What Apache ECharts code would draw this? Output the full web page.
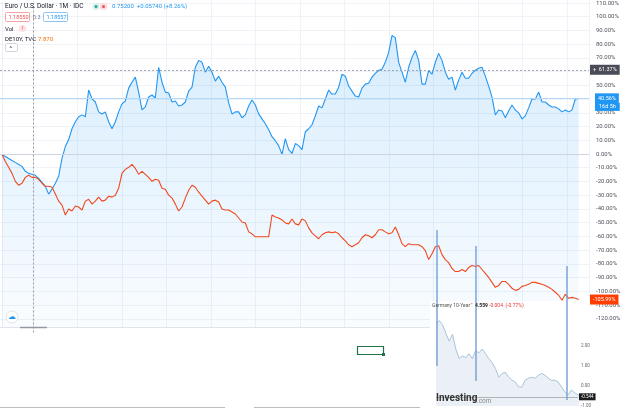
<!DOCTYPE html>
<html>
<head>
<meta charset="utf-8">
<script src="https://cdn.jsdelivr.net/npm/echarts@6/dist/echarts.min.js"></script>
<style>
  html, body { margin: 0; padding: 0; background: #fff; }
  #chart { width: 625px; height: 409px; }
</style>
</head>
<body>
<div id="chart"></div>
<script>
// EUR/USD, % change since start (blue, area)
const eurUsd = [
  -0.4, -1.8, -3.2, -4.7, -6.1, -7.6, -9.0, -12.6, -14.1, -14.8,
  -15.5, -17.7, -20.6, -23.5, -29.2, -25.6, -21.3, -16.2, -3.2, 5.4,
  10.5, 18.4, 23.5, 27.1, 28.5, 27.1, 46.6, 40.1, 37.9, 30.7,
  29.2, 30.7, 23.5, 18.4, 23.5, 30.7, 36.5, 38.6, 48.0, 52.3,
  56.0, 45.1, 32.1, 34.3, 41.5, 43.0, 40.8, 63.2, 52.3, 45.1,
  44.4, 37.9, 38.6, 35.0, 35.7, 37.9, 45.8, 48.7, 63.2, 68.2,
  66.8, 59.6, 63.9, 59.6, 53.1, 56.7, 52.3, 48.7, 37.2, 29.2,
  30.7, 30.7, 26.4, 28.5, 35.0, 39.3, 35.7, 29.2, 25.6, 22.0,
  17.7, 12.6, 9.7, 6.1, -0.4, 11.2, 3.2, 0.4, 7.6, 6.1,
  3.2, 16.2, 18.4, 21.3, 27.8, 35.0, 33.6, 40.1, 46.6, 43.7,
  43.7, 48.7, 58.1, 56.7, 49.5, 45.8, 42.2, 41.5, 48.0, 50.9,
  51.6, 56.0, 58.8, 61.0, 61.7, 66.8, 74.0, 86.3, 84.8, 66.8,
  59.6, 52.3, 63.2, 70.4, 75.4, 68.2, 50.9, 50.9, 61.0, 58.1,
  66.8, 73.3, 68.2, 59.6, 54.5, 56.0, 46.6, 53.8, 59.6, 55.2,
  55.2, 58.8, 61.0, 62.5, 63.2, 56.7, 49.5, 41.5, 28.5, 32.1,
  31.4, 26.4, 31.4, 35.7, 32.1, 30.0, 25.6, 27.8, 33.6, 40.1,
  40.1, 45.1, 37.9, 37.9, 35.7, 34.3, 34.3, 32.9, 30.7, 32.1,
  30.7, 32.1, 40.1, 40.56
];

// DE10Y, % change since start (red)
const de10y = [
  -0.4, -5.4, -9.7, -14.1, -19.9, -22.7, -21.3, -17.0, -15.5, -17.0,
  -17.0, -18.4, -21.3, -23.5, -23.5, -24.2, -29.2, -34.3, -37.2, -44.4,
  -40.1, -41.5, -37.9, -38.6, -40.8, -34.3, -32.9, -36.5, -34.3, -31.4,
  -34.3, -33.6, -30.7, -31.4, -30.0, -24.9, -14.1, -11.2, -9.7, -7.6,
  -10.5, -14.8, -12.6, -14.8, -17.0, -19.9, -18.4, -19.1, -24.9, -25.6,
  -30.0, -32.1, -36.5, -41.5, -38.6, -32.1, -26.4, -22.7, -24.2, -27.8,
  -30.7, -33.6, -36.5, -34.3, -33.6, -35.0, -40.1, -40.8, -40.8, -42.2,
  -43.7, -46.6, -49.5, -50.2, -56.7, -58.1, -60.3, -60.3, -60.3, -60.3,
  -60.3, -44.4, -45.8, -46.6, -48.0, -50.2, -50.9, -47.3, -50.9, -51.6,
  -47.3, -48.7, -53.8, -57.4, -59.6, -61.7, -58.8, -57.4, -56.7, -57.4,
  -56.7, -58.1, -61.0, -63.2, -66.1, -67.5, -66.1, -64.6, -61.0, -58.8,
  -59.6, -61.0, -58.8, -55.2, -55.2, -56.7, -58.1, -57.4, -53.1, -58.8,
  -65.3, -67.5, -65.3, -66.1, -66.1, -66.1, -67.5, -70.4, -76.9, -72.6,
  -67.5, -66.8, -73.3, -76.9, -79.1, -83.4, -85.6, -85.6, -84.1, -85.6,
  -82.7, -81.2, -81.9, -81.2, -84.1, -87.0, -89.9, -93.5, -97.1, -95.7,
  -92.8, -92.8, -94.9, -97.8, -99.3, -98.6, -96.4, -95.7, -94.9, -93.5,
  -93.5, -94.2, -94.9, -95.7, -97.1, -98.6, -100.7, -102.9, -106.5, -102.2,
  -105.1, -104.4, -105.1, -105.99
];

// Germany 10-Year yield (Investing.com inset)
const de10yInset = [
  3.12, 3.27, 3.07, 2.63, 2.24, 2.59, 1.85, 1.37, 1.51, 1.41,
  1.61, 1.37, 1.76, 1.66, 1.85, 1.61, 1.37, 1.17, 0.88, 0.44,
  0.63, 0.68, 0.44, 0.29, 0.20, -0.05, -0.05, 0.29, 0.39, 0.44,
  0.39, 0.54, 0.63, 0.54, 0.39, 0.29, 0.29, 0.20, -0.05, -0.29,
  -0.44, -0.20, -0.34, -0.44, -0.54
];

// vertical marker lines of the inset: [index, top yield, bottom yield]
const insetMarkers = [[0.3, 7.8, 1.0], [12.1, 7.0, 0.25], [39.7, 6.0, -0.7]];

const eurLast = 40.56;
const deLast = -105.99;
const insetLast = -0.544;
const dashedLevel = 61.37;
const crosshairAt = 9.3;

const chart = echarts.init(document.getElementById('chart'));
const font = 'Roboto, "Noto Sans", sans-serif';

const txt = (x, y, text, fill, size, extra) => Object.assign({
  type: 'text', left: x, top: y, z: 20,
  style: { text: text, fill: fill, font: (size || 6) + 'px ' + font }
}, extra || {});

const priceBox = (bg, pad) => ({
  show: true, position: 'end', distance: 3,
  backgroundColor: bg, color: '#fff', fontSize: 5.5,
  padding: pad || [2, 3], fontFamily: font
});

const option = {
  animation: false,
  backgroundColor: '#ffffff',
  grid: [
    { left: 0, right: 36, top: 0, bottom: 76.5 },      // main chart
    { left: 436, right: 47, top: 316, bottom: 3 },      // investing inset
    { left: 33.2, right: 36, top: 0, bottom: 76.5 },   // time grid lines
    { left: 436, right: 47, top: 0, bottom: 0 }         // inset marker lines
  ],
  xAxis: [
    { type: 'value', gridIndex: 0, min: -0.6, max: 176.1, show: false },
    { type: 'value', gridIndex: 1, min: 0, max: 43, show: false },
    {
      type: 'value', gridIndex: 2, min: 0, max: 12.49, interval: 1,
      axisLabel: { show: false }, axisTick: { show: false }, axisLine: { show: false },
      splitLine: { show: true, lineStyle: { color: '#eff2f7', width: 1 } }
    },
    { type: 'value', gridIndex: 3, min: 0, max: 43, show: false }
  ],
  yAxis: [
    {
      type: 'value', gridIndex: 0, position: 'right', min: -130, max: 110, interval: 10,
      axisLine: { show: true, lineStyle: { color: '#eceff4' } },
      axisTick: { show: false },
      splitLine: { lineStyle: { color: '#eff2f7', width: 1 } },
      axisLabel: {
        fontSize: 6, color: '#50535e', margin: 7, fontFamily: font,
        formatter: v => v.toFixed(2) + '%'
      }
    },
    {
      type: 'value', gridIndex: 1, position: 'right', min: -1, max: 3.5, interval: 1, z: 12,
      axisLine: { show: false }, axisTick: { show: false }, splitLine: { show: false },
      axisLabel: {
        fontSize: 4.5, color: '#666', margin: 3, fontFamily: font,
        formatter: v => (v > 2.5 ? '' : v.toFixed(2))
      }
    },
    { type: 'value', gridIndex: 2, min: 0, max: 1, show: false },
    { type: 'value', gridIndex: 3, min: -1.15, max: 19.3, show: false }
  ],
  series: [
    {
      name: 'EUR/USD', type: 'line', xAxisIndex: 0, yAxisIndex: 0, z: 2,
      data: eurUsd.map((v, i) => [i, v]),
      symbol: 'none',
      lineStyle: { color: '#2196f3', width: 1.1 },
      areaStyle: {
        origin: 'start',
        color: new echarts.graphic.LinearGradient(0, 0, 0, 1, [
          { offset: 0, color: 'rgba(33,150,243,0.25)' },
          { offset: 1, color: 'rgba(33,150,243,0.03)' }
        ])
      },
      markLine: {
        silent: true, symbol: ['none', 'none'],
        data: [
          { yAxis: 0, lineStyle: { color: '#cfd5df', type: 'solid', width: 1 }, label: { show: false } },
          {
            yAxis: dashedLevel, lineStyle: { color: '#a3a6af', type: [2, 2], width: 1 },
            label: Object.assign(priceBox('#4a4d57'), { distance: 1, formatter: '+  ' + dashedLevel.toFixed(2) + '%' })
          },
          {
            yAxis: eurLast, lineStyle: { color: '#b3d9fa', type: 'solid', width: 1 },
            label: Object.assign(priceBox('#2196f3'), { distance: 6, formatter: eurLast.toFixed(2) + '%' })
          },
          {
            yAxis: 34.3, lineStyle: { color: 'rgba(0,0,0,0)', width: 0 },
            label: Object.assign(priceBox('#2196f3', [1, 4]), { distance: 6, formatter: '16d 5h' })
          },
          { xAxis: crosshairAt, lineStyle: { color: '#9a9da6', type: [2, 2], width: 1 }, label: { show: false } }
        ]
      }
    },
    {
      name: 'DE10Y', type: 'line', xAxisIndex: 0, yAxisIndex: 0, z: 3,
      data: de10y.map((v, i) => [i, v]),
      symbol: 'none',
      lineStyle: { color: '#f0481c', width: 1.1 },
      markLine: {
        silent: true, symbol: ['none', 'none'],
        data: [{
          yAxis: deLast, lineStyle: { color: 'rgba(0,0,0,0)', width: 0 },
          label: Object.assign(priceBox('#ff3d00'), { distance: 1, formatter: deLast.toFixed(2) + '%' })
        }]
      }
    },
    {
      name: 'Germany 10-Year', type: 'line', xAxisIndex: 1, yAxisIndex: 1, z: 10,
      data: de10yInset.map((v, i) => [i, v]),
      symbol: 'none',
      lineStyle: { color: '#a8c3da', width: 1 },
      areaStyle: { origin: 'start', color: '#e2eaf2' },
      markLine: {
        silent: true, symbol: ['none', 'none'],
        data: [{
          yAxis: insetLast, lineStyle: { color: '#3a3a3a', type: 'solid', width: 1 },
          label: {
            show: true, position: 'end', distance: 1,
            formatter: insetLast.toFixed(3), backgroundColor: '#1e1e1e', color: '#fff',
            fontSize: 4.5, padding: [1, 2], fontFamily: font
          }
        }]
      }
    },
    {
      name: 'markers', type: 'lines', coordinateSystem: 'cartesian2d',
      xAxisIndex: 3, yAxisIndex: 3, z: 12, silent: true,
      lineStyle: { color: '#6f9bd6', width: 1.5, opacity: 0.9 },
      data: insetMarkers.map(m => ({ coords: [[m[0], m[1]], [m[0], m[2]]] }))
    }
  ],
  graphic: [
    // lower part of the screenshot is blank
    { type: 'rect', shape: { x: 0, y: 327, width: 625, height: 82 }, style: { fill: '#fff' }, z: 5 },
    { type: 'rect', shape: { x: 430, y: 301, width: 160, height: 108 }, style: { fill: '#fff' }, z: 5 },
    { type: 'line', shape: { x1: 0, y1: 327.5, x2: 430, y2: 327.5 }, style: { stroke: '#e0e3eb', lineWidth: 1 }, z: 6 },
    { type: 'line', shape: { x1: 20, y1: 327.5, x2: 47, y2: 327.5 }, style: { stroke: '#9598a1', lineWidth: 1.5 }, z: 6 },
    { type: 'circle', shape: { cx: 12, cy: 317, r: 6 }, style: { fill: '#fff', stroke: '#e0e3eb' }, z: 20 },
    txt(7.5, 313, '☁', '#2196f3', 8),
    { type: 'rect', shape: { x: 357.5, y: 346.5, width: 26, height: 8 }, style: { fill: 'none', stroke: '#217346', lineWidth: 1.2 }, z: 20 },
    { type: 'rect', shape: { x: 382, y: 353, width: 3, height: 3 }, style: { fill: '#217346' }, z: 20 },
    { type: 'line', shape: { x1: 0, y1: 407.5, x2: 225, y2: 407.5 }, style: { stroke: '#bdbdbd', lineWidth: 1 }, z: 20 },
    { type: 'line', shape: { x1: 254, y1: 407.5, x2: 420, y2: 407.5 }, style: { stroke: '#bdbdbd', lineWidth: 1 }, z: 20 },

    // legend block, top left
    txt(5, 3, 'Euro / U.S. Dollar · 1M · IDC', '#131722', 6.5),
    { type: 'circle', shape: { cx: 96, cy: 6.5, r: 3.5 }, style: { fill: '#d7f0ec' }, z: 20 },
    { type: 'circle', shape: { cx: 96, cy: 6.5, r: 1.5 }, style: { fill: '#26a69a' }, z: 21 },
    { type: 'rect', shape: { x: 100, y: 3, width: 7, height: 7, r: 2 }, style: { fill: '#fcdde4' }, z: 20 },
    { type: 'circle', shape: { cx: 103.5, cy: 6.5, r: 1.5 }, style: { fill: '#ef5350' }, z: 21 },
    txt(112, 3, '0.75200  +0.05740 (+8.26%)', '#2196f3', 6),
    { type: 'rect', shape: { x: 5.5, y: 12.5, width: 24, height: 9, r: 1 }, style: { fill: '#fff', stroke: '#f5a3a3' }, z: 20 },
    txt(8.5, 14.5, '1.18550', '#ef5350', 5.5),
    txt(33, 14.5, '0.3', '#787b86', 5.5),
    { type: 'rect', shape: { x: 43.5, y: 12.5, width: 24, height: 9, r: 1 }, style: { fill: '#fff', stroke: '#8cc4f5' }, z: 20 },
    txt(46.5, 14.5, '1.18557', '#2196f3', 5.5),
    txt(5, 26, 'Vol', '#131722', 6),
    { type: 'circle', shape: { cx: 22.5, cy: 28.5, r: 3.5 }, style: { fill: '#fde0e0' }, z: 20 },
    txt(21.6, 25.5, '!', '#ef5350', 6, { z: 21 }),
    txt(5, 36, 'DE10Y, TVC', '#131722', 6),
    txt(38, 36, '7.870', '#ff6d00', 6),
    { type: 'rect', shape: { x: 5.5, y: 43.5, width: 12, height: 8, r: 1 }, style: { fill: '#fff', stroke: '#d1d4dc' }, z: 20 },
    txt(9.5, 45, '^', '#131722', 6),

    // Investing.com inset title and logo
    txt(432, 303.5, 'Germany 10-Year', '#555', 5, { z: 21 }),
    txt(471, 302, '•', '#e53935', 5, { z: 21 }),
    { type: 'text', left: 475, top: 303.5, z: 21, style: { text: '4.559', fill: '#222', font: 'bold 5px ' + font } },
    txt(489, 303.5, '-0.004  (-0.77%)', '#e53935', 5, { z: 21 }),
    { type: 'text', left: 436, top: 393, z: 21, style: { text: 'Investing', fill: '#333', font: 'bold 10px ' + font } },
    txt(477, 398, '.com', '#888', 6.5, { z: 21 })
  ]
};

chart.setOption(option);
</script>
</body>
</html>
